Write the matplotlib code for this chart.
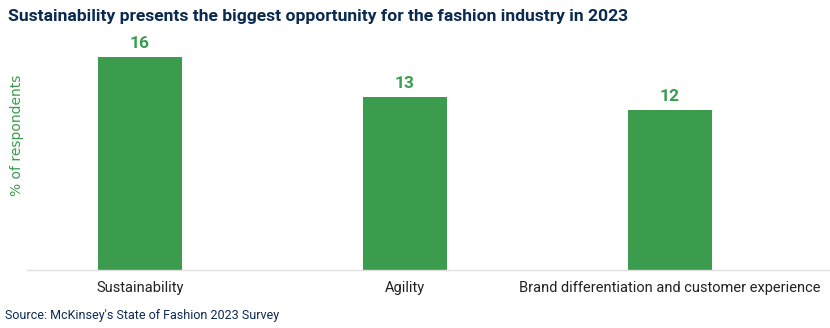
import matplotlib
matplotlib.use("Agg")
import matplotlib.pyplot as plt
from matplotlib import font_manager

names = {f.name for f in font_manager.fontManager.ttflist}
fam = ["Liberation Sans Narrow", "Roboto", "DejaVu Sans"]
fam = [f for f in fam if f in names] + ["DejaVu Sans"]
plt.rcParams['font.family'] = fam

categories = ["Sustainability", "Agility", "Brand differentiation and customer experience"]
values = [16, 13, 12]

green = "#3a9c4c"
navy = "#0b2a52"

fig = plt.figure(figsize=(8.3, 3.28), dpi=100)
W, H = 830, 328
ax = fig.add_axes([27 / W, 1 - 270 / H, (830 - 27) / W, (270 - 40) / H])
x = list(range(len(categories)))
bars = ax.bar(x, values, width=0.317, color=green)
ax.set_xlim(-0.426, 2.604)
ax.set_ylim(0, 17.28)
for xi, v in zip(x, values):
    ax.text(xi, v + 0.45, str(v), ha="center", va="bottom", color=green,
            fontsize=12.5, fontweight="bold")
ax.set_xticks(x)
ax.set_xticklabels(categories, fontsize=10.5, color="#222222")
ax.tick_params(axis="x", length=0, pad=8)
ax.set_yticks([])
for s in ["top", "right", "left"]:
    ax.spines[s].set_visible(False)
ax.spines["bottom"].set_color("#e0e0e0")
ax.spines["bottom"].set_linewidth(1)

fig.text(17 / W, 1 - 135 / H, "% of respondents", rotation=90, ha="center",
         va="center", color=green, fontsize=10, family="DejaVu Sans")
fig.text(8 / W, 1 - 17 / H, "Sustainability presents the biggest opportunity for the fashion industry in 2023",
         ha="left", va="center", color=navy, fontsize=12.6, fontweight="bold")
fig.text(5 / W, 1 - 315 / H, "Source: McKinsey's State of Fashion 2023 Survey",
         ha="left", va="center", color=navy, fontsize=9)

fig.savefig("out.png", dpi=100)
